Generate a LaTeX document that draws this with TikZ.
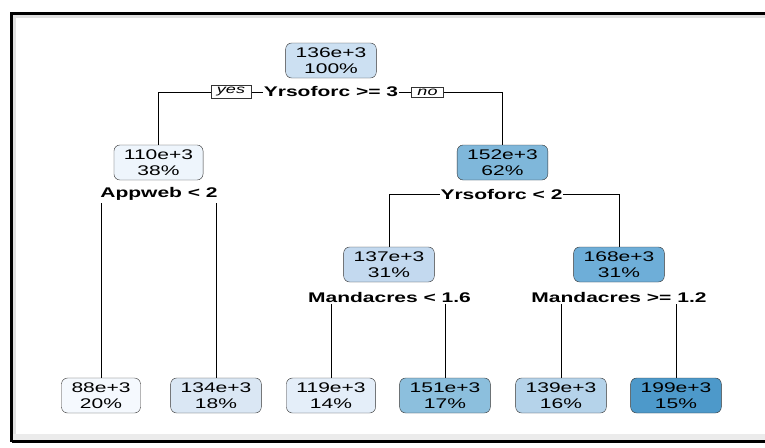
\documentclass[tikz,border=0pt]{standalone}
\usepackage{fontspec}
\setmainfont[FakeStretch=1.5]{Liberation Sans}
\usetikzlibrary{backgrounds}

\definecolor{c088}{HTML}{F5F9FE}
\definecolor{c110}{HTML}{EEF5FC}
\definecolor{c119}{HTML}{E4EEF9}
\definecolor{c134}{HTML}{DAE7F4}
\definecolor{c136}{HTML}{CCE0F2}
\definecolor{c137}{HTML}{C3D9EF}
\definecolor{c139}{HTML}{B5D3EA}
\definecolor{c151}{HTML}{8CBFDD}
\definecolor{c152}{HTML}{7FB7DA}
\definecolor{c168}{HTML}{6EAED8}
\definecolor{c199}{HTML}{4D99CA}

\begin{document}
\begin{tikzpicture}[x=1pt,y=-1pt,
	box/.style={draw=black!80, rounded corners=6pt, align=center, inner xsep=10pt, inner ysep=2pt,
		minimum height=35pt, font=\fontsize{14}{15.7}\selectfont},
	split/.style={fill=white, inner xsep=1pt, inner ysep=2pt, font=\bfseries\fontsize{14}{15}\selectfont},
	yesno/.style={draw=black!80, fill=white, inner xsep=6pt, inner ysep=2pt, font=\itshape\fontsize{12}{13}\selectfont}]
	
	\useasboundingbox (0,0) rectangle (765,447);
	
	% frame
	\fill[black!12] (13,14) rectangle (765,18);
	\fill[black!12] (13,14) rectangle (16,440);
	\fill[black!8] (13,434) rectangle (765,440);
	\draw[line width=3pt] (765,13.5) -- (11.5,13.5) -- (11.5,442);
	\draw[line width=3pt] (11.5,441) -- (765,441);
	
	% nodes
	\node[box, fill=c136] (root) at (331,60.5) {136e+3\\100\%};
	\node[split] (s0) at (331,92) {Yrsoforc >= 3};
	\node[yesno] (yes) at (231,92) {yes};
	\node[yesno] (no) at (427.5,92) {no};
	
	\node[box, fill=c110] (n2) at (158.5,162.5) {110e+3\\38\%};
	\node[split] (s2) at (159,194) {Appweb < 2};
	\node[box, fill=c152] (n3) at (502.5,162.5) {152e+3\\62\%};
	\node[split] (s3) at (501.5,194) {Yrsoforc < 2};
	
	\node[box, fill=c137] (n6) at (389,264.5) {137e+3\\31\%};
	\node[split] (s6) at (389.5,297) {Mandacres < 1.6};
	\node[box, fill=c168] (n7) at (619,264.5) {168e+3\\31\%};
	\node[split] (s7) at (619,297) {Mandacres >= 1.2};
	
	\node[box, fill=c088] (l4) at (101,395.5) {88e+3\\20\%};
	\node[box, fill=c134] (l5) at (216,395.5) {134e+3\\18\%};
	\node[box, fill=c119] (l12) at (331,395.5) {119e+3\\14\%};
	\node[box, fill=c151] (l13) at (445,395.5) {151e+3\\17\%};
	\node[box, fill=c139] (l14) at (561,395.5) {139e+3\\16\%};
	\node[box, fill=c199] (l15) at (676,395.5) {199e+3\\15\%};
	
	% connectors
	\begin{scope}[on background layer, line width=0.6pt]
		\draw (s0.center) -| (n2.north);
		\draw (s0.center) -| (n3.north);
		\draw (s2.center) -| (l4.north);
		\draw (s2.center) -| (l5.north);
		\draw (s3.center) -| (n6.north);
		\draw (s3.center) -| (n7.north);
		\draw (s6.center) -| (l12.north);
		\draw (s6.center) -| (l13.north);
		\draw (s7.center) -| (l14.north);
		\draw (s7.center) -| (l15.north);
	\end{scope}
\end{tikzpicture}
\end{document}
